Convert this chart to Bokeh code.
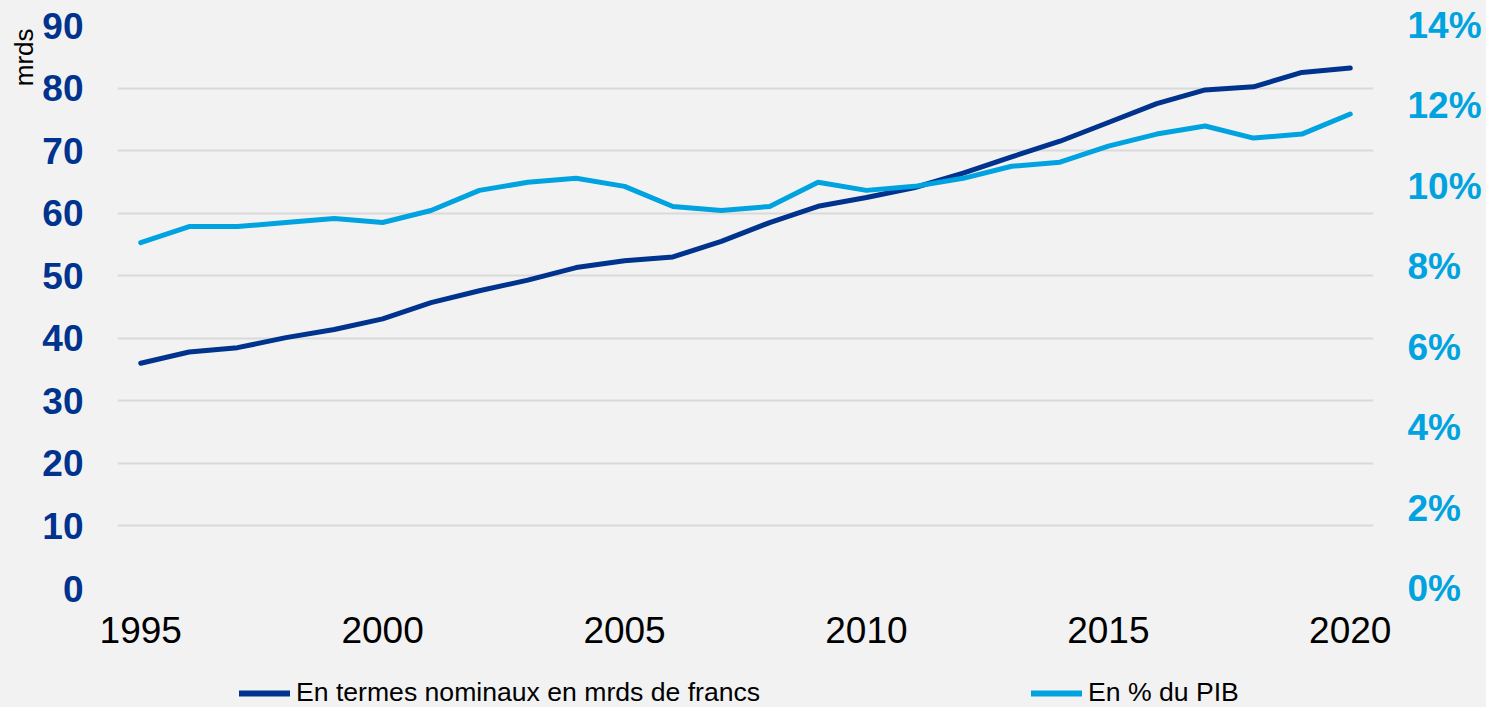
from bokeh.plotting import figure
from bokeh.layouts import column
from bokeh.models import (Range1d, LinearAxis, FixedTicker, PrintfTickFormatter,
                          Legend, LegendItem, Title)
from bokeh.embed import file_html
from bokeh.resources import INLINE

years = [1995, 1996, 1997, 1998, 1999, 2000, 2001, 2002, 2003, 2004, 2005, 2006, 2007,
         2008, 2009, 2010, 2011, 2012, 2013, 2014, 2015, 2016, 2017, 2018, 2019, 2020]
nominal = [36.0, 37.8, 38.5, 40.1, 41.4, 43.1, 45.7, 47.6, 49.3, 51.3, 52.4, 53.0, 55.5,
           58.5, 61.1, 62.5, 64.1, 66.4, 69.0, 71.5, 74.5, 77.5, 79.7, 80.2, 82.5, 83.2]
pct_pib = [8.6, 9.0, 9.0, 9.1, 9.2, 9.1, 9.4, 9.9, 10.1, 10.2, 10.0, 9.5, 9.4,
           9.5, 10.1, 9.9, 10.0, 10.2, 10.5, 10.6, 11.0, 11.3, 11.5, 11.2, 11.3, 11.8]
left_ticks = [0, 10, 20, 30, 40, 50, 60, 70, 80, 90]
right_ticks = [0, 2, 4, 6, 8, 10, 12, 14]
x_ticks = [1995, 2000, 2005, 2010, 2015, 2020]
label_nominal = "En termes nominaux en mrds de francs"
label_pct = "En % du PIB"
unit_label = "mrds"

DARK = "#00338D"
LIGHT = "#00A3E0"
BG = "#F2F2F2"
FONT = "Liberation Sans"

p = figure(width=1486, height=672,
           x_range=Range1d(1994.52, 2020.48), y_range=Range1d(0, 90),
           output_backend="svg", toolbar_location=None,
           min_border_left=117, min_border_right=113,
           min_border_top=25, min_border_bottom=84,
           background_fill_color=BG, border_fill_color=BG,
           outline_line_color=None)
p.extra_y_ranges = {"pct": Range1d(0, 14)}

# grid
p.xgrid.visible = False
p.ygrid.grid_line_color = "#D9D9D9"
p.ygrid.grid_line_width = 2
p.ygrid.ticker = FixedTicker(ticks=left_ticks)

# x axis
xa = p.xaxis[0]
xa.ticker = FixedTicker(ticks=x_ticks)
xa.axis_line_color = None
xa.major_tick_line_color = None
xa.minor_tick_line_color = None
xa.major_tick_out = 0
xa.major_label_standoff = 28
xa.major_label_text_font = FONT
xa.major_label_text_font_size = "37px"
xa.major_label_text_color = "black"

# left axis
ya = p.yaxis[0]
ya.ticker = FixedTicker(ticks=left_ticks)
ya.axis_line_color = None
ya.major_tick_line_color = None
ya.minor_tick_line_color = None
ya.major_tick_out = 0
ya.major_label_standoff = 34
ya.major_label_text_font = FONT
ya.major_label_text_font_size = "37px"
ya.major_label_text_font_style = "bold"
ya.major_label_text_color = DARK

# unit label at top-left
p.add_layout(Title(text=unit_label, align="right", offset=3, standoff=2,
                   text_font=FONT, text_font_size="26px",
                   text_font_style="normal", text_color="black"), "left")

# right axis
ra = LinearAxis(y_range_name="pct", ticker=FixedTicker(ticks=right_ticks),
                formatter=PrintfTickFormatter(format="%d%%"))
ra.axis_line_color = None
ra.major_tick_line_color = None
ra.minor_tick_line_color = None
ra.major_tick_out = 0
ra.major_label_standoff = 34
ra.major_label_text_font = FONT
ra.major_label_text_font_size = "37px"
ra.major_label_text_font_style = "bold"
ra.major_label_text_color = LIGHT
p.add_layout(ra, "right")

p.line(years, nominal, line_color=DARK, line_width=5,
       line_cap="round", line_join="round")
p.line(years, pct_pib, y_range_name="pct", line_color=LIGHT, line_width=5,
       line_cap="round", line_join="round")

# legend strip (its lines lie outside its own ranges, only the legend shows)
q = figure(width=1486, height=35, x_axis_type=None, y_axis_type=None,
           x_range=Range1d(0, 1), y_range=Range1d(0, 1),
           output_backend="svg", toolbar_location=None,
           min_border_left=117, min_border_right=113, min_border_top=0, min_border_bottom=0,
           background_fill_color=BG, border_fill_color=BG, outline_line_color=None)
lr1 = q.line(years, nominal, line_color=DARK, line_width=6, line_cap="round")
lr2 = q.line(years, pct_pib, line_color=LIGHT, line_width=6, line_cap="round")

def make_legend(label, renderer, loc):
    return Legend(items=[LegendItem(label=label, renderers=[renderer])],
                  location=loc, orientation="horizontal",
                  padding=0, margin=0, spacing=0,
                  glyph_width=51, glyph_height=28, label_standoff=6,
                  border_line_color=None, background_fill_alpha=0,
                  label_text_font=FONT, label_text_font_size="26.6px",
                  label_text_color="black")

q.add_layout(make_legend(label_nominal, lr1, (122, -1)))
q.add_layout(make_legend(label_pct, lr2, (914, -1)))

layout = column(p, q, spacing=0, styles={"background-color": BG})
open("out.html", "w").write(file_html(layout, INLINE))
